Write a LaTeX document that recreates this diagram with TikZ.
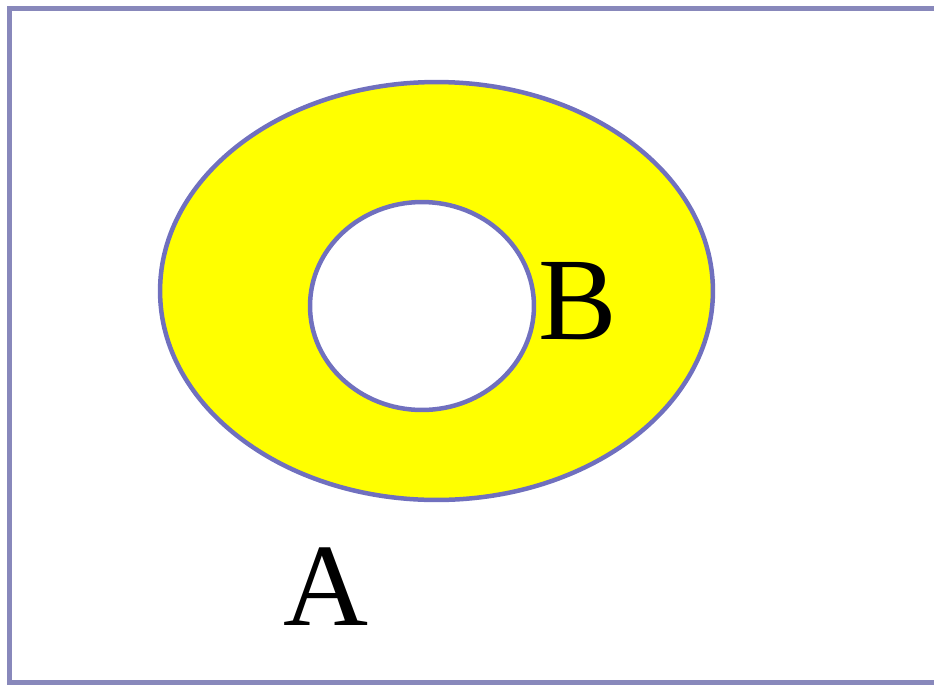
\documentclass[tikz,border=0pt]{standalone}
\usepackage{fontspec}
\setmainfont{Liberation Serif}
\definecolor{framecol}{RGB}{136,136,187}
\definecolor{ringcol}{RGB}{112,112,190}
\definecolor{ringfill}{RGB}{255,255,0}
\begin{document}
\begin{tikzpicture}[x=0.02cm,y=-0.02cm]
  \useasboundingbox (0,0) rectangle (934,684);
  \clip (0,0) rectangle (934,684);
  % universe A
  \draw[framecol,line width=0.1cm] (9.5,8.5) rectangle (960,682);
  % ring B
  \fill[ringfill,even odd rule] (436.5,291) ellipse [x radius=5.53cm,y radius=4.18cm]
    (422,306) ellipse [x radius=2.24cm,y radius=2.08cm];
  \draw[ringcol,line width=0.09cm] (436.5,291) ellipse [x radius=5.53cm,y radius=4.18cm];
  \draw[ringcol,line width=0.09cm] (422,306) ellipse [x radius=2.24cm,y radius=2.08cm];
  % labels
  \node[inner sep=0pt,font=\fontsize{67}{67}\selectfont] (labB) at (578,301) {B};
  \node[inner sep=0pt,font=\fontsize{67}{67}\selectfont] (labA) at (326,587) {A};
\end{tikzpicture}
\end{document}
